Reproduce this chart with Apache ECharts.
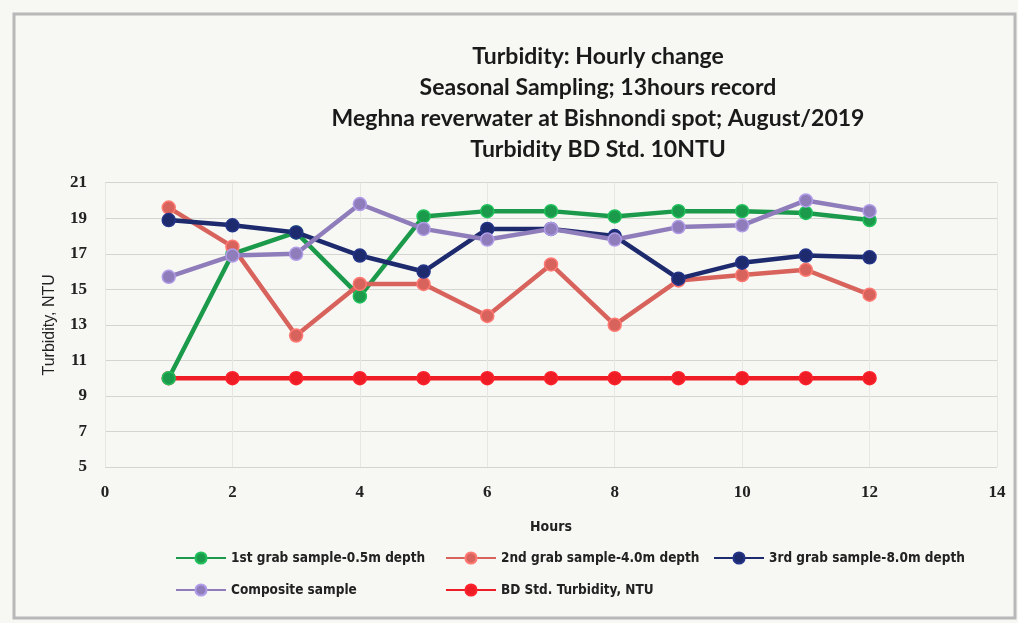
<!DOCTYPE html>
<html>
<head>
<meta charset="utf-8">
<script src="https://cdn.jsdelivr.net/npm/echarts@6/dist/echarts.min.js"></script>
<style>html,body{margin:0;padding:0;background:#fff}#c{width:1018px;height:623px}</style>
</head>
<body>
<div id="c"></div>
<script>
const hours = [1,2,3,4,5,6,7,8,9,10,11,12];
const grab1 = [10.0,17.0,18.2,14.6,19.1,19.4,19.4,19.1,19.4,19.4,19.3,18.9];
const grab2 = [19.6,17.4,12.4,15.3,15.3,13.5,16.4,13.0,15.5,15.8,16.1,14.7];
const grab3 = [18.9,18.6,18.2,16.9,16.0,18.4,18.4,18.0,15.6,16.5,16.9,16.8];
const composite = [15.7,16.9,17.0,19.8,18.4,17.8,18.4,17.8,18.5,18.6,20.0,19.4];
const bdStd = [10,10,10,10,10,10,10,10,10,10,10,10];
const seriesNames = ['1st grab sample-0.5m depth','2nd grab sample-4.0m depth','3rd grab sample-8.0m depth','Composite sample','BD Std. Turbidity, NTU'];
const seriesColors = ['#1a9a4a','#d8625c','#1d2a6e','#8e7dba','#ee1c24'];
const seriesData = [grab1, grab2, grab3, composite, bdStd];
const titleLines = ['Turbidity: Hourly change','Seasonal Sampling; 13hours record','Meghna reverwater at Bishnondi spot; August/2019','Turbidity BD Std. 10NTU'];

const chart = echarts.init(document.getElementById('c'), null, {renderer:'canvas'});
const legendPos = [[175,551],[445,551],[713,551],[175,583],[445,583]];
const series = seriesData.map((d,i)=>({
  name: seriesNames[i], type:'line',
  data: hours.map((h,j)=>[h,d[j]]),
  symbol:'circle', symbolSize:13,
  lineStyle:{color:seriesColors[i], width:4.5},
  itemStyle:{color:seriesColors[i], borderColor:echarts.color.lift(seriesColors[i], -0.25), borderWidth:1.5},
  z: i===4 ? 2 : 3+i
}));
const order = [4,1,0,3,2];
chart.setOption({
  backgroundColor:'#f7f7f3',
  animation:false,
  graphic:[{type:'rect', shape:{x:14,y:14,width:1001,height:604}, style:{fill:'none', stroke:'#b8b8b8', lineWidth:3}, z:-1}],
  title:{text:titleLines.join('\n'), left:593, textAlign:'center', top:36,
    textStyle:{fontFamily:'Lato, "Open Sans", sans-serif', fontWeight:'bold', fontSize:23, lineHeight:31, color:'#1a1a1a'}},
  legend: legendPos.map((p,i)=>({
    data:[seriesNames[i]], left:p[0], top:p[1], padding:0, itemWidth:50, itemHeight:14, itemGap:2,
    textStyle:{fontFamily:'"Liberation Sans Narrow", "DejaVu Sans Condensed", sans-serif', fontSize:13.5, color:'#222', fontWeight:'bold'}
  })),
  grid:{left:105, right:21, top:182.7, bottom:156, containLabel:false},
  xAxis:{type:'value', min:0, max:14, interval:2, name:'Hours', nameLocation:'middle', nameGap:53,
    nameTextStyle:{fontFamily:'"Liberation Sans Narrow", "DejaVu Sans Condensed", sans-serif', fontWeight:'bold', fontSize:14, color:'#222'},
    axisLine:{show:false}, axisTick:{show:false},
    axisLabel:{margin:17, fontFamily:'"Liberation Serif", serif', fontWeight:'bold', fontSize:17, color:'#222'},
    splitLine:{show:true, lineStyle:{color:'#e6e6e2', width:1}}},
  yAxis:{type:'value', min:5, max:21, interval:2, name:'Turbidity, NTU', nameLocation:'middle', nameGap:47,
    nameTextStyle:{fontFamily:'"Liberation Sans", sans-serif', fontSize:16, color:'#222'},
    axisLine:{show:false}, axisTick:{show:false},
    axisLabel:{margin:18, fontFamily:'"Liberation Serif", serif', fontWeight:'bold', fontSize:17, color:'#222'},
    splitLine:{show:true, lineStyle:{color:'#d4d4d0', width:1}}},
  series: order.map(i=>series[i])
});
</script>
</body>
</html>
